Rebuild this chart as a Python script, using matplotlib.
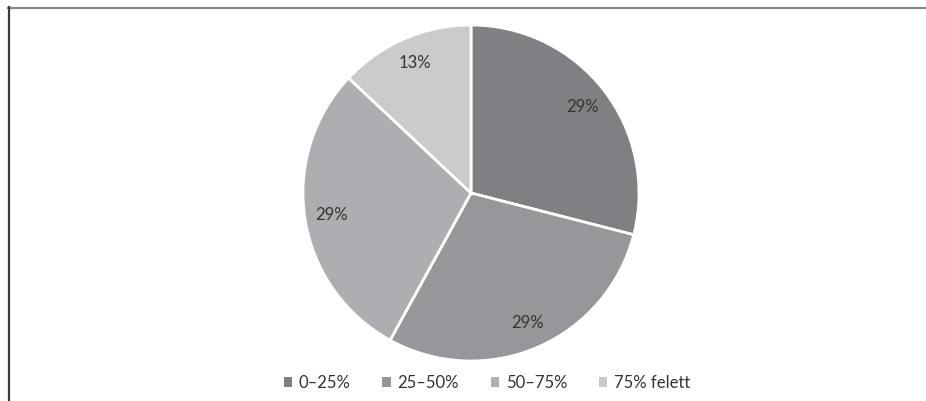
import matplotlib
matplotlib.use("Agg")
import matplotlib.pyplot as plt
from matplotlib.lines import Line2D
from matplotlib.patches import Patch

categories = ["0–25%", "25–50%", "50–75%", "75% felett"]
shares = [29, 29, 29, 13]
colors = ["#808084", "#97979b", "#aeaeb2", "#cbcbce"]

plt.rcParams["font.family"] = ["Lato", "DejaVu Sans"]

W, H = 926, 401
fig = plt.figure(figsize=(W / 100, H / 100), dpi=100)
fig.patch.set_facecolor("white")

cx, cy, r = 471, 193, 168
ax = fig.add_axes([(cx - r) / W, (H - cy - r) / H, 2 * r / W, 2 * r / H])
wedges, texts, autotexts = ax.pie(
    shares,
    colors=colors,
    startangle=90,
    counterclock=False,
    autopct=lambda p: f"{p:.0f}%",
    pctdistance=0.84,
    wedgeprops=dict(edgecolor="white", linewidth=2),
    textprops=dict(fontsize=12, color="#333333"),
)
ax.set_aspect("equal")
ax.set_xlim(-1, 1)
ax.set_ylim(-1, 1)

handles = [Patch(facecolor=c, edgecolor="none") for c in colors]
fig.legend(
    handles, categories,
    loc="center", bbox_to_anchor=(487 / W, 1 - 383 / H),
    ncol=4, frameon=False, fontsize=12,
    handlelength=0.5, handleheight=0.5, handletextpad=0.4,
    columnspacing=1.9, labelcolor="#333333",
)

# frame lines along the top and left edges
fig.add_artist(Line2D([8 / W, 1], [1 - 7.5 / H, 1 - 7.5 / H], transform=fig.transFigure,
                      color="#8a8a8a", linewidth=1.6))
fig.add_artist(Line2D([8.5 / W, 8.5 / W], [0, 1 - 7 / H], transform=fig.transFigure,
                      color="#3c3c3c", linewidth=1.6))

fig.savefig("out.png", dpi=100, facecolor="white")
